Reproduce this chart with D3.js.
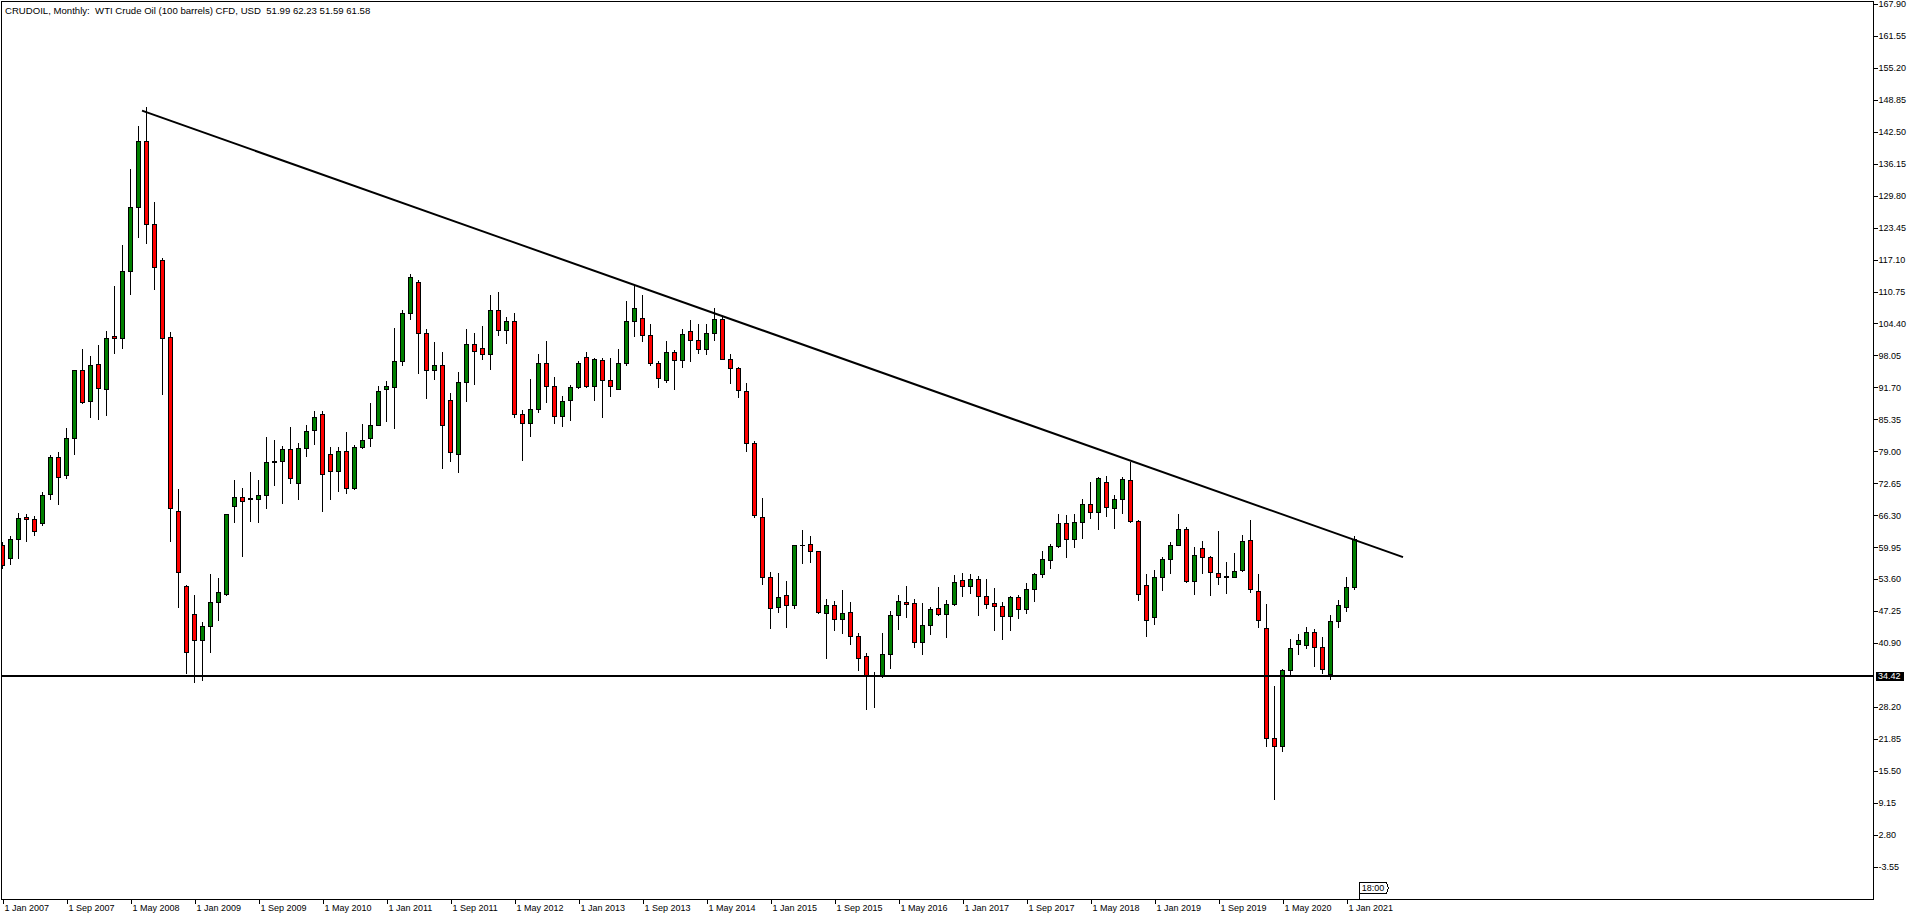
<!DOCTYPE html>
<html><head><meta charset="utf-8">
<script src="https://cdn.jsdelivr.net/npm/d3@7"></script>
<style>
html,body{margin:0;padding:0;background:#fff;overflow:hidden}
svg{display:block}
</style></head><body>
<script>
// ---- categories (monthly bars) ----
const months = [
"2007-01","2007-02","2007-03","2007-04","2007-05","2007-06","2007-07","2007-08","2007-09","2007-10","2007-11","2007-12",
"2008-01","2008-02","2008-03","2008-04","2008-05","2008-06","2008-07","2008-08","2008-09","2008-10","2008-11","2008-12",
"2009-01","2009-02","2009-03","2009-04","2009-05","2009-06","2009-07","2009-08","2009-09","2009-10","2009-11","2009-12",
"2010-01","2010-02","2010-03","2010-04","2010-05","2010-06","2010-07","2010-08","2010-09","2010-10","2010-11","2010-12",
"2011-01","2011-02","2011-03","2011-04","2011-05","2011-06","2011-07","2011-08","2011-09","2011-10","2011-11","2011-12",
"2012-01","2012-02","2012-03","2012-04","2012-05","2012-06","2012-07","2012-08","2012-09","2012-10","2012-11","2012-12",
"2013-01","2013-02","2013-03","2013-04","2013-05","2013-06","2013-07","2013-08","2013-09","2013-10","2013-11","2013-12",
"2014-01","2014-02","2014-03","2014-04","2014-05","2014-06","2014-07","2014-08","2014-09","2014-10","2014-11","2014-12",
"2015-01","2015-02","2015-03","2015-04","2015-05","2015-06","2015-07","2015-08","2015-09","2015-10","2015-11","2015-12",
"2016-01","2016-02","2016-03","2016-04","2016-05","2016-06","2016-07","2016-08","2016-09","2016-10","2016-11","2016-12",
"2017-01","2017-02","2017-03","2017-04","2017-05","2017-06","2017-07","2017-08","2017-09","2017-10","2017-11","2017-12",
"2018-01","2018-02","2018-03","2018-04","2018-05","2018-06","2018-07","2018-08","2018-09","2018-10","2018-11","2018-12",
"2019-01","2019-02","2019-03","2019-04","2019-05","2019-06","2019-07","2019-08","2019-09","2019-10","2019-11","2019-12",
"2020-01","2020-02","2020-03","2020-04","2020-05","2020-06","2020-07","2020-08","2020-09","2020-10","2020-11","2020-12",
"2021-01","2021-02"];

const opens = [
60.3,57.7,61.5,66.0,65.5,64.8,70.5,77.9,74.3,81.7,95.2,89.0,
96.4,91.3,102.0,101.6,114.8,127.6,140.6,124.1,117.1,101.8,67.2,52.2,
46.6,41.5,44.2,49.1,50.7,68.1,69.9,69.6,69.6,70.3,76.9,77.0,
79.4,72.7,79.7,83.2,86.5,78.5,75.1,79.0,71.7,79.8,81.6,84.3,
91.4,91.8,96.9,106.5,112.6,102.6,95.2,96.1,89.1,78.4,92.7,100.4,
99.6,98.4,107.0,103.1,104.8,86.5,84.7,87.5,96.6,91.9,86.0,89.1,
91.7,97.7,91.9,97.1,93.1,91.3,96.6,104.8,105.4,102.2,96.6,93.1,
98.7,97.1,103.0,101.2,99.4,102.6,105.2,97.3,95.5,90.9,80.7,66.0,
54.1,48.1,50.5,48.5,60.3,60.5,59.1,46.8,48.4,45.6,47.0,42.2,
38.4,34.3,34.5,38.8,46.4,49.0,48.8,41.0,44.5,47.8,46.6,48.6,
53.5,52.3,53.7,50.3,48.9,48.3,46.2,50.1,47.6,51.7,54.7,57.3,
60.2,64.7,61.5,64.9,68.6,67.0,72.8,67.8,69.6,73.2,65.1,52.5,
46.0,54.1,57.6,60.3,63.5,53.3,59.7,57.9,54.9,54.1,54.1,55.5,
61.3,51.3,43.8,22.1,20.5,35.5,40.6,40.4,43.0,40.0,34.8,45.2,
48.1,51.99];

const highs = [
61.0,62.1,66.8,66.6,66.2,70.9,78.3,78.8,83.7,95.2,99.3,97.9,
100.2,103.0,111.9,119.9,135.2,143.6,147.4,128.6,117.4,102.7,71.6,52.5,
50.5,45.1,54.7,53.8,66.5,73.3,71.7,74.9,73.2,81.9,81.2,80.0,
83.9,80.7,84.3,87.1,87.1,79.8,79.8,82.9,80.2,84.5,88.6,92.0,
93.0,103.6,107.0,114.2,113.0,103.4,100.8,98.7,90.5,94.7,103.4,102.5,
103.9,110.1,110.6,105.6,106.5,87.2,93.3,98.3,100.9,93.7,90.0,92.1,
96.9,98.7,97.5,97.5,97.5,99.3,108.9,111.9,110.1,104.2,96.9,100.9,
99.1,103.4,105.1,104.3,104.3,107.4,105.9,98.3,95.7,92.5,81.1,69.8,
55.1,54.9,53.3,60.3,63.3,62.1,59.1,49.7,49.2,51.4,49.0,42.8,
39.0,35.2,42.8,47.2,50.4,52.2,49.7,48.8,48.1,52.0,49.4,54.4,
54.8,54.7,54.2,53.6,51.8,49.1,50.3,50.4,52.9,54.9,59.1,60.5,
66.6,66.3,66.6,69.6,72.9,73.8,74.0,70.4,73.8,76.9,65.4,54.7,
55.5,58.0,60.9,66.6,64.0,59.9,61.1,58.1,63.1,56.9,58.7,62.3,
65.4,54.7,48.7,32.3,35.8,41.6,42.6,44.0,43.6,42.0,46.4,49.5,
54.0,62.23];

const lows = [
55.8,56.6,57.7,61.1,62.3,64.4,69.5,68.6,73.7,78.4,88.5,85.9,
85.5,86.3,98.6,99.5,110.3,121.6,120.4,111.2,90.4,61.1,48.1,35.0,
33.2,33.6,39.1,45.4,50.5,64.9,58.2,65.2,64.9,67.8,72.3,68.7,
72.7,69.5,78.0,80.4,67.2,69.5,71.2,70.7,71.6,79.6,80.0,84.2,
85.0,83.7,96.1,105.3,94.6,89.6,93.3,75.7,77.0,74.9,89.0,92.4,
97.3,95.3,102.2,100.6,85.9,77.2,82.1,86.9,88.8,84.7,84.1,85.3,
91.5,91.7,89.2,85.9,90.0,91.3,96.1,102.0,101.0,96.1,91.8,92.7,
91.4,95.8,97.0,98.6,98.3,101.2,97.3,92.5,89.7,79.1,66.0,52.7,
43.9,47.1,44.1,47.9,56.7,57.0,46.9,37.9,43.4,42.9,40.7,35.6,
27.7,28.2,34.2,36.0,43.6,46.1,40.1,38.8,42.6,46.5,42.1,48.5,
50.3,50.9,46.5,47.9,43.4,41.7,43.4,45.9,46.9,49.2,54.1,55.8,
60.0,57.9,59.9,61.8,65.8,63.5,66.2,63.8,66.8,64.9,49.5,42.3,
44.6,51.5,54.8,60.3,53.1,50.7,54.8,50.5,52.6,50.9,54.1,55.3,
51.1,44.0,20.5,9.8,19.5,34.8,38.8,39.8,36.3,35.0,33.8,44.0,
47.3,51.59];

const closes = [
56.4,61.5,65.8,65.6,63.2,70.3,77.9,73.9,81.6,95.2,88.7,96.2,
91.6,101.6,101.6,114.8,127.6,140.6,124.1,115.7,101.6,67.8,55.0,39.1,
41.5,44.3,49.0,51.0,66.5,69.9,69.2,69.65,70.3,76.8,77.1,79.4,
73.7,79.7,83.1,85.8,74.5,75.0,79.0,71.7,79.9,81.3,84.2,91.0,
92.0,97.0,106.5,113.7,102.6,95.1,96.1,84.3,78.8,92.7,100.4,99.0,
98.4,107.0,103.1,104.8,86.5,84.7,87.5,96.6,92.0,86.1,88.9,91.7,
96.6,91.9,97.3,93.1,91.9,96.6,104.8,107.4,102.2,96.6,93.5,98.8,
97.1,102.4,101.2,99.4,102.6,105.2,97.3,95.5,91.1,80.7,66.4,54.1,
47.9,50.1,48.5,60.3,60.4,59.1,47.1,48.4,45.6,46.8,42.2,38.0,
34.5,34.6,38.8,46.4,49.2,48.7,41.0,44.4,47.6,46.6,48.6,53.1,
52.3,53.7,50.3,48.7,48.3,46.2,50.1,47.6,51.7,54.7,57.5,60.1,
64.7,61.5,64.9,68.6,67.0,73.6,68.0,69.6,73.4,65.1,50.7,45.4,
54.1,57.6,60.3,63.5,53.3,58.3,57.9,55.1,54.1,54.15,55.3,61.1,
51.7,45.4,22.1,20.5,35.5,39.8,41.4,43.0,40.0,35.8,45.2,48.5,
52.1,61.58];

// ---- axis labels ----
const timeTickMonths = ["2007-01","2007-09","2008-05","2009-01","2009-09","2010-05","2011-01","2011-09","2012-05","2013-01","2013-09","2014-05","2015-01","2015-09","2016-05","2017-01","2017-09","2018-05","2019-01","2019-09","2020-05","2021-01"];
const timeTickLabels = ["1 Jan 2007","1 Sep 2007","1 May 2008","1 Jan 2009","1 Sep 2009","1 May 2010","1 Jan 2011","1 Sep 2011","1 May 2012","1 Jan 2013","1 Sep 2013","1 May 2014","1 Jan 2015","1 Sep 2015","1 May 2016","1 Jan 2017","1 Sep 2017","1 May 2018","1 Jan 2019","1 Sep 2019","1 May 2020","1 Jan 2021"];
const priceTickLabels = ["167.90","161.55","155.20","148.85","142.50","136.15","129.80","123.45","117.10","110.75","104.40","98.05","91.70","85.35","79.00","72.65","66.30","59.95","53.60","47.25","40.90","28.20","21.85","15.50","9.15","2.80","-3.55"];

// ---- drawn objects ----
const supportLevel = 34.42;
const trendIndex = [17.5, 175.125];   // month positions of the trendline anchors
const trendPrice = [146.7, 57.96];
const titleText = "CRUDOIL, Monthly:  WTI Crude Oil (100 barrels) CFD, USD  51.99 62.23 51.59 61.58";
const timeMarker = "18:00";

// ---- layout ----
const W = 1916, H = 919;
const L = 1.5, T = 1.5, R = 1873.5, B = 899.5;
const FONT = "'Liberation Sans', Arial, sans-serif";

const svg = d3.select("body").append("svg").attr("width", W).attr("height", H)
  .style("background", "#fff");

const x = d3.scaleLinear().domain([0, months.length - 1]).range([2, 2 + 8 * (months.length - 1)]);
const y = d3.scaleLinear().domain([167.90, -3.55]).range([4, 866.6]);
const idx = m => months.indexOf(m);

svg.append("defs").append("clipPath").attr("id", "plot")
  .append("rect").attr("x", L + 0.5).attr("y", T + 0.5).attr("width", R - L - 1).attr("height", B - T - 1);

const plot = svg.append("g").attr("clip-path", "url(#plot)");

// candles
const data = months.map((m, i) => ({i, o: opens[i], h: highs[i], l: lows[i], c: closes[i]}));
const cg = plot.append("g");
data.forEach(d => {
  const cx = Math.round(x(d.i)) + 0.5;
  const yh = Math.round(y(d.h)), yl = Math.round(y(d.l));
  const yo = Math.round(y(d.o)), yc = Math.round(y(d.c));
  cg.append("line").attr("x1", cx).attr("x2", cx).attr("y1", yh).attr("y2", yl + 1)
    .attr("stroke", "#000").attr("stroke-width", 1).attr("shape-rendering", "crispEdges");
  const top = Math.min(yo, yc), bot = Math.max(yo, yc);
  if (bot - top < 1) {
    cg.append("line").attr("x1", cx - 2.5).attr("x2", cx + 2.5).attr("y1", top + 0.5).attr("y2", top + 0.5)
      .attr("stroke", "#000").attr("stroke-width", 1).attr("shape-rendering", "crispEdges");
  } else {
    cg.append("rect").attr("x", cx - 2).attr("y", top + 0.5).attr("width", 4).attr("height", bot - top)
      .attr("fill", d.c >= d.o ? "#008000" : "#ff0000").attr("stroke", "#000").attr("stroke-width", 1)
      .attr("shape-rendering", "crispEdges");
  }
});

// support line
const ys = Math.round(y(supportLevel));
plot.append("line").attr("x1", 0).attr("x2", R).attr("y1", ys).attr("y2", ys)
  .attr("stroke", "#000").attr("stroke-width", 2).attr("shape-rendering", "crispEdges");

// trendline
plot.append("line")
  .attr("x1", x(trendIndex[0])).attr("y1", y(trendPrice[0]))
  .attr("x2", x(trendIndex[1])).attr("y2", y(trendPrice[1]))
  .attr("stroke", "#000").attr("stroke-width", 2);

// frame
svg.append("rect").attr("x", L).attr("y", T).attr("width", R - L).attr("height", B - T)
  .attr("fill", "none").attr("stroke", "#000").attr("stroke-width", 1).attr("shape-rendering", "crispEdges");

// price axis
const yAxis = d3.axisRight(y)
  .tickValues(priceTickLabels.map(Number))
  .tickFormat((v, i) => priceTickLabels[i])
  .tickSize(4).tickSizeOuter(0).tickPadding(1);
const ya = svg.append("g").attr("transform", `translate(${R},0)`).call(yAxis);
ya.select(".domain").remove();
ya.selectAll("line").attr("stroke", "#000").attr("shape-rendering", "crispEdges");
ya.selectAll("text").attr("font-family", FONT).attr("font-size", 9).attr("fill", "#000");

// support price label
const lg = svg.append("g");
lg.append("rect").attr("x", R + 2.5).attr("y", ys - 4).attr("width", 28).attr("height", 9).attr("fill", "#000");
lg.append("text").attr("x", R + 4.5).attr("y", ys).attr("dy", "0.35em")
  .attr("font-family", FONT).attr("font-size", 9).attr("fill", "#fff").text(supportLevel.toFixed(2));

// time axis
const xAxis = d3.axisBottom(x)
  .tickValues(timeTickMonths.map(idx))
  .tickFormat((v, i) => timeTickLabels[i])
  .tickSize(4).tickSizeOuter(0).tickPadding(1);
const xa = svg.append("g").attr("transform", `translate(0.5,${B})`).call(xAxis);
xa.select(".domain").remove();
xa.selectAll("line").attr("stroke", "#000").attr("shape-rendering", "crispEdges");
xa.selectAll("text").attr("font-family", FONT).attr("font-size", 9).attr("fill", "#000")
  .attr("text-anchor", "start").attr("x", 1.5);

// time marker box
const mx = Math.round(x(months.length - 1)) + 5.5;
const my = 882.5;
svg.append("path")
  .attr("d", `M${mx},${B}V${my}H${mx + 27}L${mx + 29},${my + 5.5}L${mx + 27},${my + 11}H${mx}`)
  .attr("fill", "#fff").attr("stroke", "#000").attr("stroke-width", 1).attr("shape-rendering", "crispEdges");
svg.append("text").attr("x", mx + 13.5).attr("y", my + 5.5).attr("dy", "0.35em").attr("text-anchor", "middle")
  .attr("font-family", FONT).attr("font-size", 9).attr("fill", "#000").text(timeMarker);

// title
svg.append("text").attr("x", 5).attr("y", 13.5)
  .attr("font-family", FONT).attr("font-size", 9.6).attr("fill", "#000")
  .style("white-space", "pre").attr("xml:space", "preserve").text(titleText);
</script>
</body></html>
